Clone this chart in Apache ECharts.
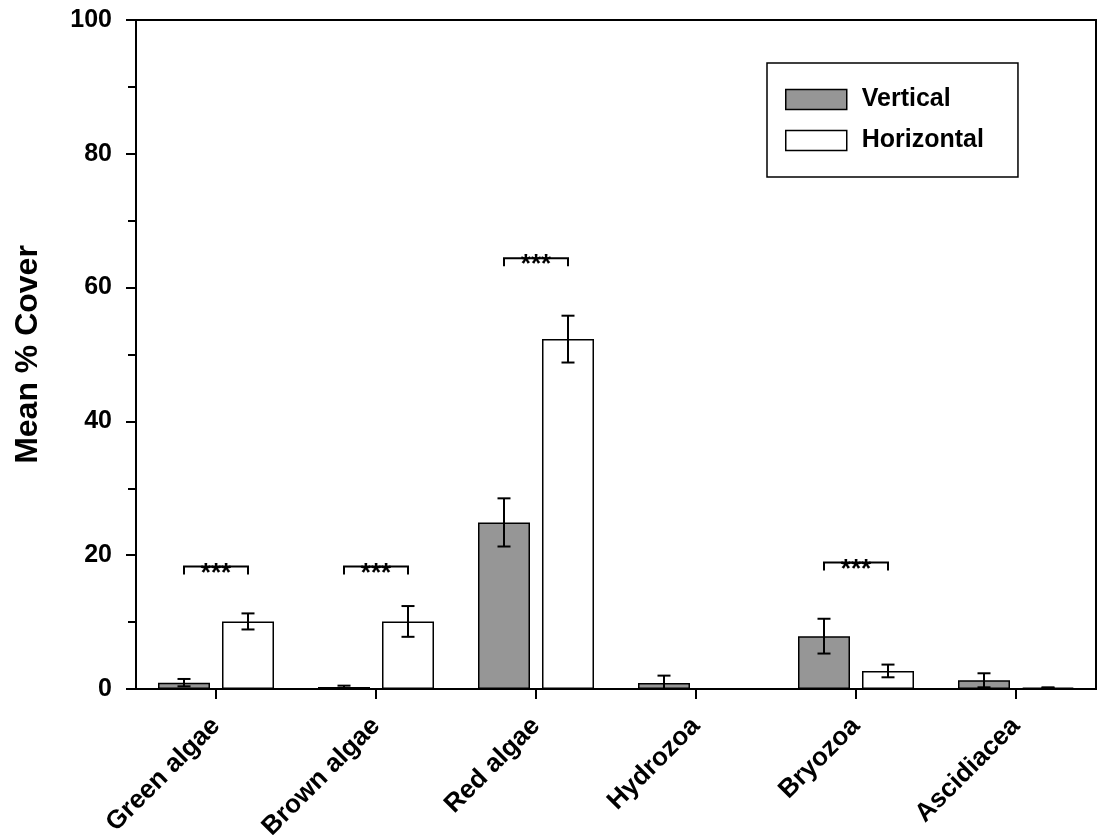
<!DOCTYPE html>
<html>
<head>
<meta charset="utf-8">
<script src="https://cdn.jsdelivr.net/npm/echarts@6/dist/echarts.min.js"></script>
<style>
  html, body { margin: 0; padding: 0; background: #fff; }
  #chart { width: 1102px; height: 835px; }
</style>
</head>
<body>
<div id="chart"></div>
<script>
// ---- data ----
const categories = ['Green algae', 'Brown algae', 'Red algae', 'Hydrozoa', 'Bryozoa', 'Ascidiacea'];
const verticalMean = [0.95, 0.3, 24.9, 0.9, 7.9, 1.3];
const verticalSE = [0.55, 0.2, 3.6, 1.1, 2.6, 1.05];
const horizontalMean = [10.1, 10.1, 52.3, 0, 2.7, 0.2];
const horizontalSE = [1.2, 2.3, 3.5, 0, 0.95, 0.05];
const sigCategoryIndex = [0, 1, 2, 4];
const sigLevel = [18.3, 18.3, 64.4, 18.9];
const sigLabel = '***';
const yTicks = [0, 20, 40, 60, 80, 100];

// ---- style constants ----
const FONT = 'Liberation Sans, Arial, Helvetica, sans-serif';
const BAR_W = 52;
const BAR_GAP = 12;
const OFFSET = (BAR_W + BAR_GAP) / 2;
const CAP = 13;
const LW = 2;

function errorRender(offset) {
  return function (params, api) {
    const i = api.value(0), m = api.value(1), se = api.value(2);
    if (!se) return null;
    const hi = api.coord([i, m + se]);
    const loVal = m - se;
    const lo = api.coord([i, Math.max(0, loVal)]);
    const x = hi[0] + offset;
    const style = { stroke: '#000', lineWidth: LW };
    const children = [
      { type: 'line', shape: { x1: x, y1: hi[1], x2: x, y2: lo[1] }, style },
      { type: 'line', shape: { x1: x - CAP / 2, y1: hi[1], x2: x + CAP / 2, y2: hi[1] }, style }
    ];
    if (loVal > 0) {
      children.push({ type: 'line', shape: { x1: x - CAP / 2, y1: lo[1], x2: x + CAP / 2, y2: lo[1] }, style });
    }
    return { type: 'group', children };
  };
}

function sigRender(params, api) {
  const i = api.value(0), lvl = api.value(1);
  const p = api.coord([i, lvl]);
  const x1 = p[0] - OFFSET, x2 = p[0] + OFFSET, y = p[1];
  const leg = 8;
  return {
    type: 'group',
    children: [
      { type: 'polyline', shape: { points: [[x1, y + leg], [x1, y], [x2, y], [x2, y + leg]] },
        style: { stroke: '#000', lineWidth: LW, fill: null } },
      { type: 'text', x: p[0], y: y + 7,
        style: { text: sigLabel, font: 'bold 26px ' + FONT, fill: '#000', align: 'center', verticalAlign: 'middle' } }
    ]
  };
}

const chart = echarts.init(document.getElementById('chart'), null, { renderer: 'canvas' });
chart.setOption({
  animation: false,
  backgroundColor: '#fff',
  textStyle: { fontFamily: FONT },
  grid: {
    left: 136, top: 20, right: 6, bottom: 146,
    containLabel: false, outerBoundsMode: 'none',
    show: true, borderColor: '#000', borderWidth: 2, backgroundColor: 'transparent'
  },
  legend: {
    orient: 'vertical',
    left: 767, top: 63,
    padding: [24, 34, 24, 18],
    backgroundColor: '#fff',
    borderColor: '#000', borderWidth: 1.5, borderRadius: 0,
    itemWidth: 61, itemHeight: 20, itemGap: 16,
    icon: 'rect',
    itemStyle: { borderColor: '#000', borderWidth: 1.5 },
    textStyle: { fontFamily: FONT, fontWeight: 'bold', fontSize: 25, color: '#000',
      lineHeight: 20, padding: [0, 0, 0, 10] },
    data: ['Vertical', 'Horizontal']
  },
  xAxis: {
    type: 'category',
    data: categories,
    axisLine: { lineStyle: { color: '#000', width: 2 } },
    axisTick: { show: true, alignWithLabel: true, interval: 0, length: 10, lineStyle: { color: '#000', width: 2 } },
    axisLabel: {
      interval: 0, rotate: 45, margin: 33,
      fontFamily: FONT, fontWeight: 'bold', fontSize: 26, color: '#000'
    },
    splitLine: { show: false }
  },
  yAxis: {
    type: 'value',
    min: yTicks[0], max: yTicks[yTicks.length - 1], interval: yTicks[1] - yTicks[0],
    name: 'Mean % Cover',
    nameLocation: 'middle',
    nameGap: 92,
    nameTextStyle: { fontFamily: FONT, fontWeight: 'bold', fontSize: 32, color: '#000' },
    axisLine: { show: true, lineStyle: { color: '#000', width: 2 } },
    axisTick: { show: true, length: 10, lineStyle: { color: '#000', width: 2 } },
    minorTick: { show: true, splitNumber: 2, length: 8, lineStyle: { color: '#000', width: 2 } },
    axisLabel: { margin: 24, fontFamily: FONT, fontWeight: 'bold', fontSize: 25, color: '#000' },
    splitLine: { show: false }
  },
  series: [
    {
      name: 'Vertical', type: 'bar', data: verticalMean,
      barWidth: BAR_W, barGap: (BAR_GAP / BAR_W * 100) + '%',
      itemStyle: { color: '#969696', borderColor: '#000', borderWidth: 1.5 },
      z: 2
    },
    {
      name: 'Horizontal', type: 'bar', data: horizontalMean,
      barWidth: BAR_W, barGap: (BAR_GAP / BAR_W * 100) + '%',
      itemStyle: { color: '#fff', borderColor: '#000', borderWidth: 1.5 },
      z: 2
    },
    {
      type: 'custom', name: 'errV', renderItem: errorRender(-OFFSET), z: 5,
      data: categories.map((c, i) => [i, verticalMean[i], verticalSE[i]]),
      encode: { x: 0, y: 1 }
    },
    {
      type: 'custom', name: 'errH', renderItem: errorRender(OFFSET), z: 5,
      data: categories.map((c, i) => [i, horizontalMean[i], horizontalSE[i]]),
      encode: { x: 0, y: 1 }
    },
    {
      type: 'custom', name: 'sig', renderItem: sigRender, z: 5,
      data: sigCategoryIndex.map((ci, k) => [ci, sigLevel[k]]),
      encode: { x: 0, y: 1 }
    }
  ]
});
</script>
</body>
</html>
